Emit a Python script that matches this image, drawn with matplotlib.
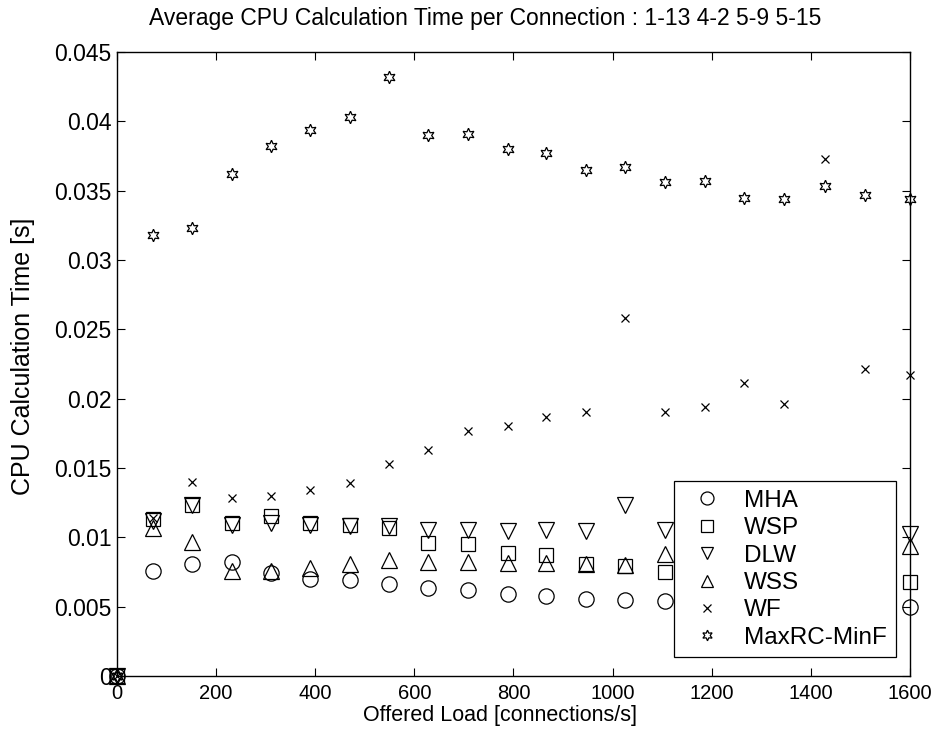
import matplotlib
matplotlib.use("Agg")
import matplotlib.pyplot as plt

plt.rcParams['font.family'] = ['Liberation Sans', 'DejaVu Sans']

# Offered load values (connections/s)
load = [0, 72, 152, 232, 310, 390, 470, 548, 628, 708, 788,
        866, 946, 1026, 1106, 1186, 1266, 1346, 1428, 1510, 1600]

# CPU calculation time [s]
mha = [0, 0.00756, 0.0081, 0.0082, 0.0074, 0.00696, 0.0069, 0.00665, 0.00636, 0.00617, 0.00593,
       0.00574, 0.00557, 0.0055, 0.0054, 0.0053, 0.0053, 0.0052, 0.0051, 0.0050, 0.00496]
wsp = [0, 0.0113, 0.0123, 0.0110, 0.0115, 0.0110, 0.01086, 0.0107, 0.0096, 0.0095, 0.0089,
       0.0087, 0.0081, 0.0079, 0.0075, 0.0074, 0.0073, 0.0072, 0.0070, 0.0069, 0.00677]
dlw = [0, 0.0112, 0.0123, 0.0109, 0.0110, 0.0109, 0.0108, 0.0108, 0.01055, 0.01055, 0.01045,
       0.0105, 0.01045, 0.0123, 0.0105, 0.0105, 0.0105, 0.0104, 0.0104, 0.0103, 0.01026]
wss = [0, 0.0107, 0.00965, 0.0076, 0.00756, 0.0078, 0.0081, 0.00833, 0.0082, 0.0082, 0.00814,
       0.00814, 0.0081, 0.00797, 0.0088, 0.0089, 0.0090, 0.0091, 0.0092, 0.0093, 0.0094]
wf = [0, 0.0114, 0.0140, 0.0128, 0.0130, 0.0134, 0.0139, 0.0153, 0.0163, 0.0177, 0.0180,
      0.0187, 0.0190, 0.0258, 0.0190, 0.0194, 0.0211, 0.0196, 0.0373, 0.0221, 0.0217]
maxrc = [0, 0.0318, 0.0323, 0.0362, 0.0382, 0.0394, 0.0403, 0.0432, 0.0390, 0.0391, 0.0380,
         0.0377, 0.0365, 0.0367, 0.0356, 0.0357, 0.0345, 0.0344, 0.0353, 0.0347, 0.0344]

series = [
    ("MHA", mha, 'o', 11),
    ("WSP", wsp, 's', 10.5),
    ("DLW", dlw, 'v', 11),
    ("WSS", wss, '^', 11),
    ("WF", wf, 'x', 6),
    ("MaxRC-MinF", maxrc, (6, 1, 0), 9),
]

xticks = [0, 200, 400, 600, 800, 1000, 1200, 1400, 1600]
yticks = [0, 0.005, 0.01, 0.015, 0.02, 0.025, 0.03, 0.035, 0.04, 0.045]
yticklabels = ['0', '0.005', '0.01', '0.015', '0.02', '0.025', '0.03', '0.035', '0.04', '0.045']

fig = plt.figure(figsize=(9.43, 7.42), dpi=100)
ax = fig.add_axes([0.124, 0.089, 0.841, 0.841])

for name, vals, mk, ms in series:
    ax.plot(load, vals, linestyle='none', marker=mk, markersize=ms,
            markerfacecolor='none', markeredgecolor='black', markeredgewidth=0.9,
            label=name, clip_on=False)

ax.set_xlim(0, 1600)
ax.set_ylim(0, 0.045)
ax.set_xticks(xticks)
ax.set_xticklabels([str(t) for t in xticks])
ax.set_yticks(yticks)
ax.set_yticklabels(yticklabels)
ax.tick_params(direction='in', top=True, right=True, length=6, width=0.8)
ax.tick_params(axis='x', labelsize=14.5, pad=6)
ax.tick_params(axis='y', labelsize=16.5, pad=4)
for sp in ax.spines.values():
    sp.set_linewidth(1.0)

ax.set_xlabel("Offered Load [connections/s]", fontsize=15.5)
ax.xaxis.set_label_coords((500 - 117) / 793, -(705 - 676) / 624)
ax.set_ylabel("CPU Calculation Time [s]", fontsize=18)
ax.yaxis.set_label_coords(-(117 - 35) / 793, (676 - 356) / 624)

fig.text(485 / 943, 1 - 18 / 742,
         "Average CPU Calculation Time per Connection : 1-13 4-2 5-9 5-15",
         fontsize=16.5, ha='center', va='center')

leg = ax.legend(loc='lower right', bbox_to_anchor=(0.982, 0.03), borderaxespad=0,
                fontsize=17.5, frameon=True, fancybox=False, framealpha=1,
                edgecolor='black', labelspacing=0.22, handletextpad=0.55,
                borderpad=0.35, handlelength=2.0, markerscale=0.85)
leg.get_frame().set_linewidth(0.9)

fig.savefig("out.png", dpi=100)
